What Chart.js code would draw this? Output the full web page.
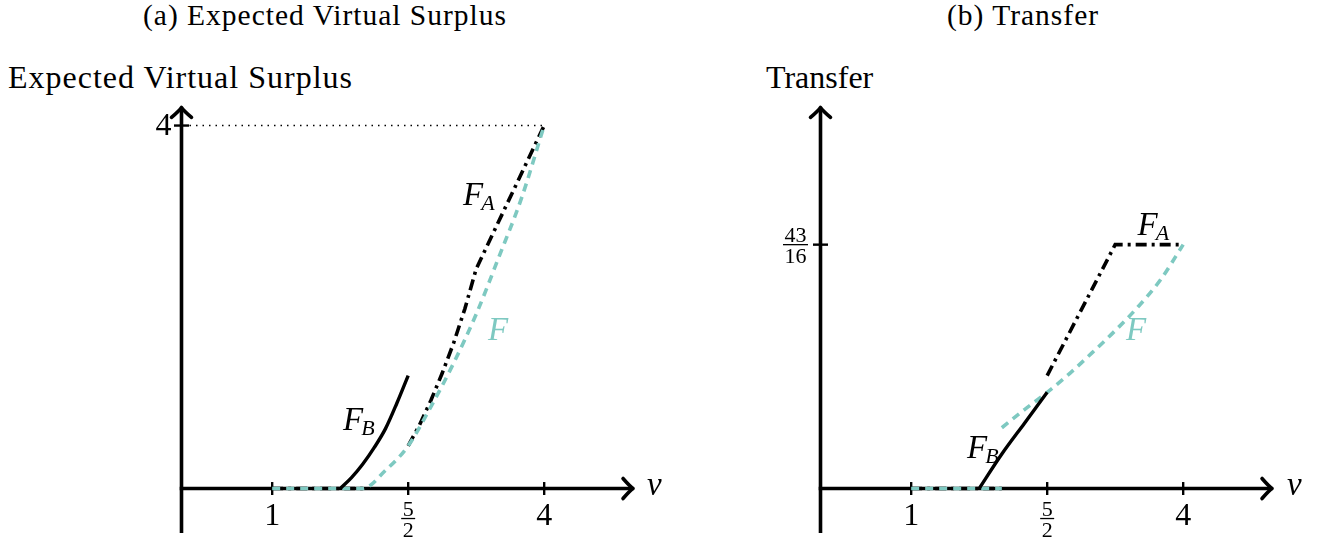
<!DOCTYPE html>
<html>
<head>
<meta charset="utf-8">
<script src="https://cdn.jsdelivr.net/npm/chart.js@4/dist/chart.umd.min.js"></script>
<style>
  html, body { margin: 0; padding: 0; background: #fff; }
  body { width: 1327px; height: 543px; position: relative; overflow: hidden; font-family: 'Liberation Serif', serif; color: #000; }
  .cap { position: absolute; top: 0; font-size: 29.5px; line-height: 30px; letter-spacing: 1px; white-space: nowrap; transform: translateX(-50%); }
  .ylab { position: absolute; top: 60px; font-size: 32px; line-height: 34px; white-space: nowrap; }
  canvas { position: absolute; top: 0; }
</style>
</head>
<body>
<div class="cap" style="left:325px;">(a) Expected Virtual Surplus</div>
<div class="cap" style="left:1023px;">(b) Transfer</div>
<div class="ylab" style="left:8px; letter-spacing:1px;">Expected Virtual Surplus</div>
<div class="ylab" style="left:766px;">Transfer</div>
<canvas id="chartA" width="663" height="543" style="left:0;"></canvas>
<canvas id="chartB" width="664" height="543" style="left:663px;"></canvas>
<script>
// ---------- DATA ----------
// x-axis ticks (valuation v)
const xTickValues = [1, 2.5, 4];
const xTickLabels = ['1', '5/2', '4'];
// (a) Expected Virtual Surplus
const evsTickValues = [4];
const evsTickLabels = ['4'];
const evsV_FA = [1, 2, 2.25, 2.5, 2.625, 2.75, 2.875, 3, 3.125, 3.25, 4];
const evsY_FA = [0, 0, null, 0.47, 0.7, 0.97, 1.27, 1.6, 1.98, 2.42, 4];
const evsV_F  = [1, 2, 2.25, 2.5, 2.75, 3, 3.25, 3.5, 3.75, 4];
const evsY_F  = [0, 0, 0.2, 0.47, 0.9, 1.38, 1.92, 2.55, 3.2, 4];
const evsV_FB = [1.75, 1.875, 2, 2.125, 2.25, 2.375, 2.5];
const evsY_FB = [0, 0.12, 0.27, 0.45, 0.66, 0.94, 1.245];
// (b) Transfer
const trTickValues = [43 / 16];
const trTickLabels = ['43/16'];
const trV_FA = [1, 2, 2.25, 2.5, 3.25, 4];
const trY_FA = [0, 0, null, 1.245, 43 / 16, 43 / 16];
const trV_F  = [1, 2, 2, 2.25, 2.5, 2.75, 3, 3.25, 3.5, 3.75, 4];
const trY_F  = [0, 0, null, 0.87, 1.06, 1.27, 1.5, 1.74, 2.0, 2.3, 43 / 16];
const trV_F_start = 2, trY_F_start = 0.67;
const trV_FB = [1.75, 2, 2.25, 2.5];
const trY_FB = [0, 0.38, 0.72, 1.06];

// ---------- STYLE ----------
const TEAL = 'rgb(126,201,193)';
const FONT = "'Liberation Serif', serif";

function toPoints(vs, ys) { return vs.map((v, i) => ({ x: v, y: ys[i] })); }

function tealPointsB() {
  const pts = toPoints(trV_F, trY_F);
  // the second branch of F starts at (2, 0.67) after the jump
  pts.splice(3, 0, { x: trV_F_start, y: trY_F_start });
  return pts;
}

function drawArrow(ctx, x, y, dir) {
  ctx.beginPath();
  if (dir === 'right') {
    ctx.moveTo(x - 10, y - 10);
    ctx.quadraticCurveTo(x - 3, y - 2, x, y);
    ctx.quadraticCurveTo(x - 3, y + 2, x - 10, y + 10);
  } else {
    ctx.moveTo(x - 10, y + 10);
    ctx.quadraticCurveTo(x - 2, y + 3, x, y);
    ctx.quadraticCurveTo(x + 2, y + 3, x + 10, y + 10);
  }
  ctx.stroke();
}

function drawFrac(ctx, cx, barY, label) {
  const [num, den] = label.split('/');
  ctx.font = '22px ' + FONT;
  ctx.textAlign = 'center';
  ctx.textBaseline = 'alphabetic';
  const w = Math.max(ctx.measureText(num).width, ctx.measureText(den).width);
  ctx.fillText(num, cx, barY - 3);
  ctx.fillText(den, cx, barY + 18);
  ctx.lineWidth = 1.3;
  ctx.beginPath();
  ctx.moveTo(cx - w / 2 - 1.5, barY);
  ctx.lineTo(cx + w / 2 + 1.5, barY);
  ctx.stroke();
}

function drawCurveLabel(ctx, x, y, main, sub, color) {
  ctx.fillStyle = color;
  ctx.textAlign = 'left';
  ctx.textBaseline = 'alphabetic';
  ctx.font = 'italic 33px ' + FONT;
  ctx.fillText(main, x, y);
  if (sub) {
    const w = ctx.measureText(main).width;
    ctx.font = 'italic 22px ' + FONT;
    ctx.fillText(sub, x + w - 2, y + 5);
  }
}

const axesPlugin = {
  id: 'axes',
  beforeDatasetsDraw(chart, args, o) {
    const { ctx } = chart;
    const xs = chart.scales.x, ys = chart.scales.y;
    const ox = xs.getPixelForValue(0), oy = ys.getPixelForValue(0);
    ctx.save();
    ctx.strokeStyle = '#000';
    ctx.lineCap = 'butt';
    ctx.lineJoin = 'round';
    // dotted guide
    if (o.guide) {
      ctx.save();
      ctx.lineWidth = 1.4;
      ctx.setLineDash([1.5, 5]);
      ctx.beginPath();
      ctx.moveTo(ox + 8, ys.getPixelForValue(o.guide[1]));
      ctx.lineTo(xs.getPixelForValue(o.guide[0]), ys.getPixelForValue(o.guide[1]));
      ctx.stroke();
      ctx.restore();
    }
    ctx.lineWidth = 3.6;
    const yTop = ys.getPixelForValue(4.2), yBot = ys.getPixelForValue(-0.49);
    ctx.beginPath(); ctx.moveTo(ox, yBot); ctx.lineTo(ox, yTop + 1); ctx.stroke();
    ctx.lineCap = 'round';
    drawArrow(ctx, ox, yTop, 'up');
    ctx.lineCap = 'butt';
    const xTip = xs.getPixelForValue(4.98);
    ctx.beginPath(); ctx.moveTo(ox - 1.8, oy); ctx.lineTo(xTip - 1, oy); ctx.stroke();
    ctx.lineCap = 'round';
    drawArrow(ctx, xTip, oy, 'right');
    ctx.lineCap = 'butt';
    ctx.lineWidth = 2.4;
    o.xTicks.forEach(v => {
      const px = xs.getPixelForValue(v);
      ctx.beginPath(); ctx.moveTo(px, oy - 6.5); ctx.lineTo(px, oy + 6.5); ctx.stroke();
    });
    o.yTicks.forEach(v => {
      const py = ys.getPixelForValue(v);
      ctx.beginPath(); ctx.moveTo(ox - 7.5, py); ctx.lineTo(ox + 7.5, py); ctx.stroke();
    });
    ctx.restore();
  },
  afterDraw(chart, args, o) {
    const { ctx } = chart;
    const xs = chart.scales.x, ys = chart.scales.y;
    const ox = xs.getPixelForValue(0), oy = ys.getPixelForValue(0);
    ctx.save();
    ctx.fillStyle = '#000';
    ctx.strokeStyle = '#000';
    // x tick labels
    o.xTicks.forEach((v, i) => {
      const px = xs.getPixelForValue(v);
      const lab = o.xLabels[i];
      if (lab.includes('/')) {
        drawFrac(ctx, px, oy + 30, lab);
      } else {
        ctx.font = '32px ' + FONT;
        ctx.textAlign = 'center';
        ctx.textBaseline = 'alphabetic';
        ctx.fillText(lab, px, oy + 36);
      }
    });
    // y tick labels
    o.yTicks.forEach((v, i) => {
      const py = ys.getPixelForValue(v);
      const lab = o.yLabels[i];
      if (lab.includes('/')) {
        drawFrac(ctx, ox - 25, py, lab);
      } else {
        ctx.font = '32px ' + FONT;
        ctx.textAlign = 'right';
        ctx.textBaseline = 'middle';
        ctx.fillText(lab, ox - 10, py + 1);
      }
    });
    // axis variable
    ctx.font = 'italic 33px ' + FONT;
    ctx.textAlign = 'left';
    ctx.textBaseline = 'alphabetic';
    ctx.fillText('v', xs.getPixelForValue(o.vLabel[0]), ys.getPixelForValue(o.vLabel[1]));
    // curve labels
    o.curveLabels.forEach(l => {
      drawCurveLabel(ctx, xs.getPixelForValue(l.at[0]), ys.getPixelForValue(l.at[1]), l.main, l.sub, l.color);
    });
    ctx.restore();
  }
};

function makeChart(id, datasets, padding, axesOpts) {
  return new Chart(document.getElementById(id), {
    type: 'scatter',
    data: { datasets },
    options: {
      responsive: false,
      animation: false,
      events: [],
      layout: { padding },
      elements: { point: { radius: 0, hoverRadius: 0 } },
      scales: {
        x: { type: 'linear', min: 0, max: 5, display: false },
        y: { type: 'linear', min: -0.5, max: 4.2, display: false }
      },
      plugins: { legend: { display: false }, tooltip: { enabled: false }, axes: axesOpts }
    },
    plugins: [axesPlugin]
  });
}

const faStyle = { borderColor: '#000', borderWidth: 3.6, borderDash: [11, 5, 3, 5], borderCapStyle: 'butt', showLine: true, tension: 0, spanGaps: false, order: 3 };
const fStyle = { borderColor: TEAL, borderWidth: 3.6, borderDash: [8, 6], borderCapStyle: 'butt', showLine: true, cubicInterpolationMode: 'monotone', spanGaps: false, order: 2 };
const fbStyle = { borderColor: '#000', borderWidth: 3.4, borderCapStyle: 'butt', showLine: true, cubicInterpolationMode: 'monotone', order: 1 };

makeChart('chartA', [
  Object.assign({ label: 'F_A', data: toPoints(evsV_FA, evsY_FA) }, faStyle),
  Object.assign({ label: 'F', data: toPoints(evsV_F, evsY_F) }, fStyle),
  Object.assign({ label: 'F_B', data: toPoints(evsV_FB, evsY_FB) }, fbStyle)
], { left: 181.5, right: 28.15, top: 107.4, bottom: 9.1 }, {
  xTicks: xTickValues, xLabels: xTickLabels,
  yTicks: evsTickValues, yLabels: evsTickLabels,
  guide: [4, 4],
  vLabel: [5.134, -0.07],
  curveLabels: [
    { main: 'F', sub: 'A', at: [3.105, 3.124], color: '#000' },
    { main: 'F', sub: '', at: [3.38, 1.636], color: TEAL },
    { main: 'F', sub: 'B', at: [1.781, 0.645], color: '#000' }
  ]
});

makeChart('chartB', [
  Object.assign({ label: 'F_A', data: toPoints(trV_FA, trY_FA) }, faStyle),
  Object.assign({ label: 'F', data: tealPointsB() }, fStyle),
  Object.assign({ label: 'F_B', data: toPoints(trV_FB, trY_FB) }, fbStyle)
], { left: 157.5, right: 53.15, top: 107.4, bottom: 9.1 }, {
  xTicks: xTickValues, xLabels: xTickLabels,
  yTicks: trTickValues, yLabels: trTickLabels,
  guide: null,
  vLabel: [5.145, -0.07],
  curveLabels: [
    { main: 'F', sub: 'A', at: [3.497, 2.793], color: '#000' },
    { main: 'F', sub: '', at: [3.37, 1.636], color: TEAL },
    { main: 'F', sub: 'B', at: [1.616, 0.336], color: '#000' }
  ]
});
</script>
</body>
</html>
